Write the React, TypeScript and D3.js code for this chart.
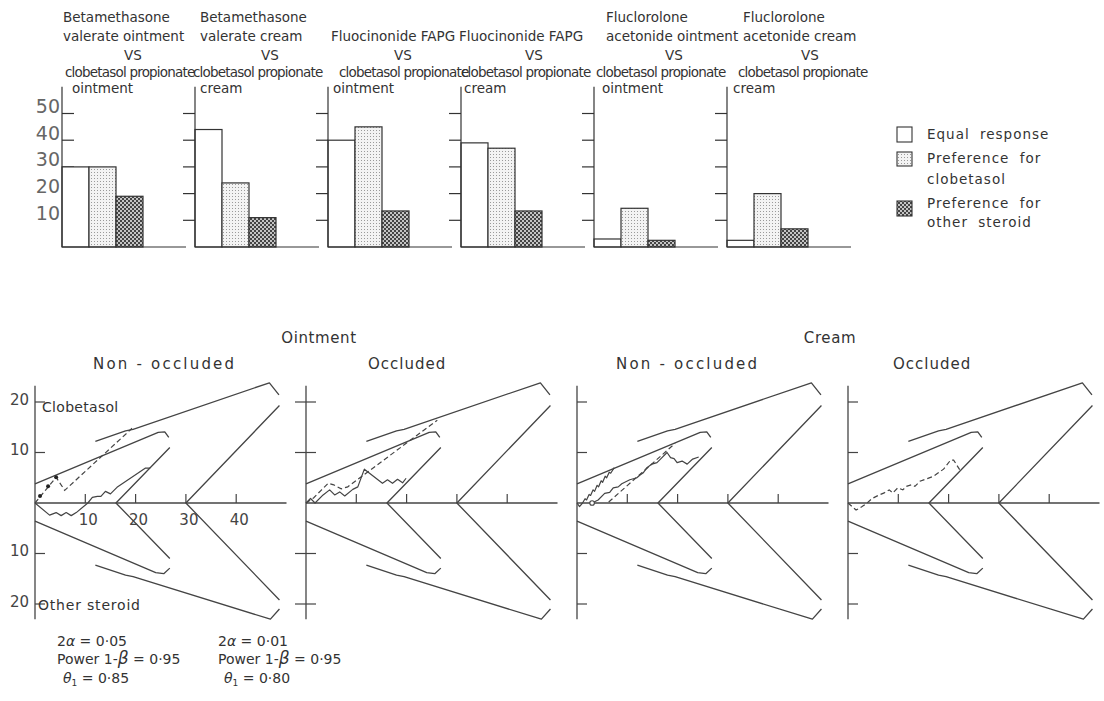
import React, { useEffect, useRef } from 'react';
import * as d3 from 'd3';

// ---------- top: paired preference bars ----------
const comparisons = ['bv-oint', 'bv-cream', 'fapg-oint', 'fapg-cream', 'fa-oint', 'fa-cream'];
const titleLines = [
  ['Betamethasone', 'valerate ointment', 'VS', 'clobetasol propionate', 'ointment'],
  ['Betamethasone', 'valerate cream', 'VS', 'clobetasol propionate', 'cream'],
  ['', 'Fluocinonide FAPG', 'VS', 'clobetasol propionate', 'ointment'],
  ['', 'Fluocinonide FAPG', 'VS', 'clobetasol propionate', 'cream'],
  ['Fluclorolone', 'acetonide ointment', 'VS', 'clobetasol propionate', 'ointment'],
  ['Fluclorolone', 'acetonide cream', 'VS', 'clobetasol propionate', 'cream'],
];
const responseKeys = ['equal', 'clobetasol', 'other'];
const responseLabels = [['Equal response'], ['Preference for', 'clobetasol'], ['Preference for', 'other steroid']];
const equalValues = [30, 44, 40, 39, 3, 2.5];
const clobetasolValues = [30, 24, 45, 37, 14.5, 20];
const otherValues = [19, 11, 13.5, 13.5, 2.5, 6.8];
const barTicks = [10, 20, 30, 40, 50];

// ---------- bottom: sequential analysis ----------
const formulations = ['Ointment', 'Cream'];
const conditions = ['Non - occluded', 'Occluded', 'Non - occluded', 'Occluded'];
const seqXTicks = [10, 20, 30, 40];
const seqYTicks = [20, 10, -10, -20];

// boundaries of the two designs (same on every panel)
const innerUpper = [[0, 3.8], [24.5, 14], [25.8, 14.1], [26.6, 13]];
const innerLower = [[0, -3.6], [24, -13.8], [25.6, -14], [26.8, -12.9]];
const innerWedge = [[26.8, 11], [16.1, 0], [26.8, -11]];
const outerUpper = [[12, 12.2], [18, 14.3], [19.5, 14.6], [46.6, 23.8], [48.5, 21.4]];
const outerLower = [[12, -12.3], [18, -14.3], [19.5, -14.6], [46.8, -23], [48.6, -21]];
const outerWedge = [[48.6, 19.3], [30, 0], [48.6, -19.2]];

// sample paths, one list per panel
const solidPaths = [
  [[[0, 0], [2.9, -2.4], [4.2, -1.9], [5.2, -2.5], [6.2, -1.9], [7.2, -2.5], [8.2, -1.9], [10.5, 0], [11.4, 1.1],
    [12.4, 1.3], [13.1, 1.3], [14, 2.3], [15, 1.8], [16.3, 3.1], [21.9, 6.9], [22.9, 6.9]]],
  [[[0, 0], [0.9, 0.9], [1.8, 0], [3.4, 1.6], [4.7, 2.6], [5.7, 1.6], [6.7, 2.2], [7.7, 1.4], [9.3, 2.7], [10.3, 3.2],
    [11.6, 6.7], [14.3, 4.6], [15.2, 3.9], [16.2, 4.6], [17.2, 3.9], [18.2, 4.7], [19.2, 4], [19.9, 4.9]]],
  [[[0, 0], [0.5, -0.7], [1.1, 0], [1.6, 0.85], [1.9, 0.6], [2.4, 1.7], [2.7, 1.5], [3.2, 2.6], [3.5, 2.3], [4, 3.5],
    [4.3, 3.2], [4.8, 4.4], [5.1, 4.1], [5.6, 5.3], [5.9, 5], [6.4, 6.1], [6.7, 5.9], [7.4, 7]],
   [[3, 0], [4.2, 0.6], [5.5, 1.9], [6.5, 2.1], [7.2, 3], [8.2, 3.2], [8.9, 3.8], [10.5, 4.6], [11.9, 5], [12.6, 5.6],
    [13.2, 6], [13.9, 7], [14.9, 7.7], [15.9, 8], [16.6, 8.7], [17.9, 10], [18.6, 9], [19.3, 8.8], [19.9, 8],
    [20.9, 8.3], [21.9, 7.7], [23, 8.7], [24.2, 9.1]]],
  [],
];
const dashedPaths = [
  [[[0, 0], [4.2, 5.1], [5.9, 2.5], [19.3, 14.8]]],
  [[[0, 0], [1.5, 1], [3, 2.5], [4.4, 3.9], [5.5, 3.6], [7, 2.8], [8.3, 3.2], [26.1, 16.4]]],
  [[[6.3, 0.2], [19.5, 11.8]]],
  [[[0, 0], [1.6, -1.4], [2.8, -0.7], [3.8, 0], [4.8, 0.9], [6.2, 1.6], [7.2, 2], [8.2, 2.6], [8.9, 2], [9.9, 3],
    [10.9, 2.6], [11.6, 3.3], [12.6, 3.6], [13.3, 3.3], [14.3, 4.3], [17, 5.3], [19, 6.7], [20.4, 8.5], [21, 8.5],
    [22.2, 6.6]]],
];
const pathDots = [[[1, 1.4], [2.6, 3.3], [4.2, 5.1]], [], [], []];
const pathRings = [[], [], [[3, 0]], []];

// design parameters under the panels
const alphaLabels = ['0·05', '0·01'];
const powerLabels = ['0·95', '0·95'];
const thetaLabels = ['0·85', '0·80'];

// ---------- layout ----------
const titleDx = [1, 5, 3, -2, 12, 16];
const vsDx = [71, 75, 75, 73, 80, 83];
const compDx = [3, -2, 11, 0, 2, 11];
const vehicleDx = [10, 5, 5, 3, 8, 6];
const titleBaselines = [22, 41, 60, 77, 93];
const conditionDx = [58, 62, 39, 45];
const conditionSpacing = [2.2, 1, 2.2, 1];
const formulationX = [319, 830];

const App = () => {
  const svgRef = useRef<SVGSVGElement | null>(null);
  const width = 1104;
  const height = 701;

  useEffect(() => {
    if (!svgRef.current) return;
    const svg = d3.select(svgRef.current);
    svg.selectAll('*').remove();

    const INK = '#333';
    const LINE = '#444';
    const FONT = "'DejaVu Sans', sans-serif";

    // fill patterns for the bars
    const defs = svg.append('defs');
    const stipple = defs.append('pattern').attr('id', 'stipple')
      .attr('width', 3).attr('height', 3).attr('patternUnits', 'userSpaceOnUse');
    stipple.append('rect').attr('width', 3).attr('height', 3).attr('fill', '#f3f3f3');
    stipple.append('rect').attr('x', 1).attr('y', 1).attr('width', 1).attr('height', 1).attr('fill', '#9a9a9a');
    const hatch = defs.append('pattern').attr('id', 'hatch')
      .attr('width', 4).attr('height', 4).attr('patternUnits', 'userSpaceOnUse');
    hatch.append('rect').attr('width', 4).attr('height', 4).attr('fill', '#c4c4c4');
    hatch.append('rect').attr('width', 2).attr('height', 2).attr('fill', '#444');
    hatch.append('rect').attr('x', 2).attr('y', 2).attr('width', 2).attr('height', 2).attr('fill', '#444');
    const fills = ['#fff', 'url(#stipple)', 'url(#hatch)'];
    const seriesValues = [equalValues, clobetasolValues, otherValues];

    // ===== top bar chart =====
    const xPanel = d3.scalePoint<string>().domain(comparisons).range([62, 727]);
    const xBar = d3.scaleBand<string>().domain(responseKeys).range([0, 81]);
    const yBar = d3.scaleLinear().domain([0, 50]).range([247, 113.5]);

    comparisons.forEach((c, i) => {
      const x0 = xPanel(c)!;
      const g = svg.append('g');

      // 刻度 (first panel ticks point right, others left)
      barTicks.forEach(t => {
        g.append('line')
          .attr('x1', i === 0 ? x0 : x0 - 12).attr('x2', i === 0 ? x0 + 12 : x0)
          .attr('y1', yBar(t)).attr('y2', yBar(t))
          .attr('stroke', INK).attr('stroke-width', 1.2);
      });

      responseKeys.forEach((k, j) => {
        const v = seriesValues[j][i];
        g.append('rect')
          .attr('x', x0 + xBar(k)!)
          .attr('y', yBar(v))
          .attr('width', xBar.bandwidth())
          .attr('height', yBar(0) - yBar(v))
          .attr('fill', fills[j])
          .attr('stroke', INK)
          .attr('stroke-width', 1.2);
      });

      g.append('line')
        .attr('x1', x0).attr('x2', x0).attr('y1', yBar(60)).attr('y2', yBar(0))
        .attr('stroke', INK).attr('stroke-width', 1.2);
      g.append('line')
        .attr('x1', x0).attr('x2', x0 + 124).attr('y1', yBar(0)).attr('y2', yBar(0))
        .attr('stroke', INK).attr('stroke-width', 1.2);

      // panel title
      titleLines[i].forEach((txt, j) => {
        if (!txt) return;
        let x = x0 + titleDx[i];
        if (j === 2) x = x0 + vsDx[i];
        if (j === 3) x = x0 + compDx[i];
        if (j === 4) x = x0 + vehicleDx[i];
        g.append('text')
          .attr('x', x)
          .attr('y', titleBaselines[j])
          .attr('text-anchor', j === 2 ? 'middle' : 'start')
          .attr('font-family', FONT)
          .attr('font-size', 13.5)
          .attr('letter-spacing', j === 3 ? -0.8 : 0)
          .attr('fill', INK)
          .text(txt);
      });
    });

    // y labels on first bar panel
    barTicks.forEach(t => {
      svg.append('text')
        .attr('x', 60)
        .attr('y', yBar(t) - 6)
        .attr('text-anchor', 'end')
        .attr('dominant-baseline', 'middle')
        .attr('font-family', FONT)
        .attr('font-size', 19)
        .attr('fill', '#666')
        .text(t);
    });

    // legend
    const legendBoxes = [[127, 15], [152, 14], [201, 15]];
    const legendBase = [[139], [163, 184], [208, 227]];
    responseKeys.forEach((k, j) => {
      svg.append('rect')
        .attr('x', 897).attr('y', legendBoxes[j][0])
        .attr('width', 15).attr('height', legendBoxes[j][1])
        .attr('fill', fills[j]).attr('stroke', INK).attr('stroke-width', 1.1);
      responseLabels[j].forEach((txt, m) => {
        svg.append('text')
          .attr('x', 927).attr('y', legendBase[j][m])
          .attr('font-family', FONT).attr('font-size', 13.5)
          .attr('letter-spacing', 1)
          .attr('word-spacing', 5)
          .attr('fill', INK)
          .text(txt);
      });
    });

    // ===== bottom sequential charts =====
    const xOrigin = d3.scalePoint<number>().domain(conditions.map((_, i) => i)).range([35, 848]);
    const yL = d3.scaleLinear().domain([-20, 20]).range([604, 402]);
    const boundaries = [innerUpper, innerLower, innerWedge, outerUpper, outerLower, outerWedge];

    conditions.forEach((cond, p) => {
      const ox = xOrigin(p)!;
      const xL = d3.scaleLinear().domain([0, 50]).range([ox, ox + 251.5]);
      const line = d3.line<number[]>().x(d => xL(d[0])).y(d => yL(d[1]));
      const g = svg.append('g');

      // axes
      g.append('line')
        .attr('x1', xL(0)).attr('x2', xL(0)).attr('y1', yL(23.2)).attr('y2', yL(-23))
        .attr('stroke', LINE).attr('stroke-width', 1.3);
      g.append('line')
        .attr('x1', xL(0)).attr('x2', xL(50)).attr('y1', yL(0)).attr('y2', yL(0))
        .attr('stroke', LINE).attr('stroke-width', 1.3);
      seqXTicks.forEach(t => {
        g.append('line')
          .attr('x1', xL(t)).attr('x2', xL(t)).attr('y1', yL(0)).attr('y2', yL(0) - 9)
          .attr('stroke', LINE).attr('stroke-width', 1.2);
      });
      seqYTicks.forEach(t => {
        g.append('line')
          .attr('x1', p === 1 ? xL(0) - 11 : xL(0)).attr('x2', xL(0) + 10)
          .attr('y1', yL(t)).attr('y2', yL(t))
          .attr('stroke', LINE).attr('stroke-width', 1.2);
      });

      // stopping boundaries
      boundaries.forEach(b => {
        g.append('path').attr('d', line(b)).attr('fill', 'none')
          .attr('stroke', LINE).attr('stroke-width', 1.3).attr('stroke-linejoin', 'round');
      });

      // sample paths
      solidPaths[p].forEach(sp => {
        g.append('path').attr('d', line(sp)).attr('fill', 'none')
          .attr('stroke', LINE).attr('stroke-width', 1.2).attr('stroke-linejoin', 'round');
      });
      dashedPaths[p].forEach(dp => {
        g.append('path').attr('d', line(dp)).attr('fill', 'none')
          .attr('stroke', LINE).attr('stroke-width', 1.2).attr('stroke-dasharray', '5,3');
      });
      pathDots[p].forEach(d => {
        g.append('circle').attr('cx', xL(d[0])).attr('cy', yL(d[1])).attr('r', 2).attr('fill', '#222');
      });
      pathRings[p].forEach(d => {
        g.append('circle').attr('cx', xL(d[0])).attr('cy', yL(d[1])).attr('r', 2.3)
          .attr('fill', '#fff').attr('stroke', LINE).attr('stroke-width', 1.1);
      });

      g.append('text')
        .attr('x', ox + conditionDx[p]).attr('y', 369)
        .attr('font-family', FONT).attr('font-size', 15).attr('letter-spacing', conditionSpacing[p])
        .attr('fill', INK)
        .text(cond);

      // axis labels only on the first panel
      if (p === 0) {
        seqXTicks.forEach(t => {
          g.append('text')
            .attr('x', xL(t) + 3).attr('y', 525)
            .attr('text-anchor', 'middle')
            .attr('font-family', FONT).attr('font-size', 15).attr('fill', '#444')
            .text(t);
        });
        seqYTicks.forEach(t => {
          g.append('text')
            .attr('x', 29).attr('y', yL(t) - 2)
            .attr('text-anchor', 'end').attr('dominant-baseline', 'middle')
            .attr('font-family', FONT).attr('font-size', 15).attr('fill', '#444')
            .text(Math.abs(t));
        });
        g.append('text')
          .attr('x', 42).attr('y', 412)
          .attr('font-family', FONT).attr('font-size', 14).attr('letter-spacing', 0.3)
          .attr('fill', INK).text('Clobetasol');
        g.append('text')
          .attr('x', 38).attr('y', 610)
          .attr('font-family', FONT).attr('font-size', 14).attr('letter-spacing', 0.8)
          .attr('fill', INK).text('Other steroid');
      }
    });

    formulations.forEach((f, i) => {
      svg.append('text')
        .attr('x', formulationX[i]).attr('y', 343)
        .attr('text-anchor', 'middle')
        .attr('font-family', FONT).attr('font-size', 15).attr('letter-spacing', 0.6)
        .attr('fill', INK).text(f);
    });

    // design parameters
    const colX = [57, 218];
    alphaLabels.forEach((a, i) => {
      const t1 = svg.append('text').attr('x', colX[i]).attr('y', 646)
        .attr('font-family', FONT).attr('font-size', 14).attr('fill', INK);
      t1.append('tspan').text('2');
      t1.append('tspan').attr('font-style', 'italic').text('α');
      t1.append('tspan').text(' = ' + a);

      const t2 = svg.append('text').attr('x', colX[i]).attr('y', 664)
        .attr('font-family', FONT).attr('font-size', 14).attr('fill', INK);
      t2.append('tspan').text('Power 1-');
      t2.append('tspan').attr('font-style', 'italic').attr('font-size', 17).text('β');
      t2.append('tspan').text(' = ' + powerLabels[i]);

      const t3 = svg.append('text').attr('x', colX[i] + 6).attr('y', 683)
        .attr('font-family', FONT).attr('font-size', 14).attr('fill', INK);
      t3.append('tspan').attr('font-style', 'italic').text('θ');
      t3.append('tspan').attr('font-size', 9).attr('dy', 3).text('1');
      t3.append('tspan').attr('dy', -3).text(' = ' + thetaLabels[i]);
    });
  }, []);

  return (
    <div style={{ position: 'absolute', left: 0, top: 0, width: `${width}px`, height: `${height}px`, background: '#fff' }}>
      <svg ref={svgRef} width={width} height={height} style={{ display: 'block' }}></svg>
    </div>
  );
};

export default App;
